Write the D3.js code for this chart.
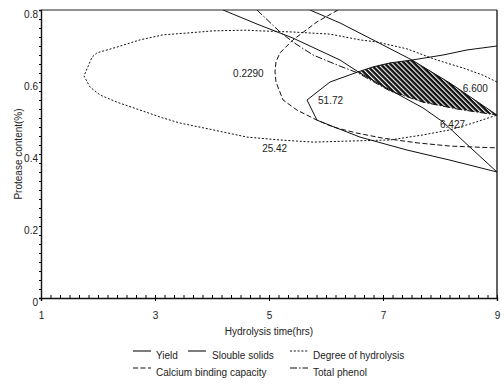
<!DOCTYPE html>
<html>
<head>
<meta charset="utf-8">
<script src="https://cdnjs.cloudflare.com/ajax/libs/d3/7.8.5/d3.min.js"></script>
<style>
  body { margin: 0; background: #fff; }
  text { font-family: "Liberation Sans", Arial, sans-serif; font-size: 10px; fill: #222; }
  .curve { fill: none; stroke: #111; stroke-width: 1; }
</style>
</head>
<body>
<div class="chart"></div>
<script>
// ---- data: [hydrolysis time (hrs), protease content (%)] ----
var xTicks = [1, 3, 5, 7, 9];
var yTicks = [0, 0.2, 0.4, 0.6, 0.8];

// Degree of hydrolysis contour (25.42)
var hydrolysisPts = [
  [9, 0.600], [8.754, 0.619], [8.404, 0.639], [7.947, 0.661], [7.421, 0.692],
  [6.895, 0.711], [6.596, 0.717], [6.070, 0.733], [5.404, 0.739], [4.842, 0.742],
  [4.614, 0.744], [4.018, 0.742], [3.561, 0.736], [3.140, 0.731], [2.737, 0.717],
  [2.333, 0.697], [1.982, 0.681], [1.895, 0.669], [1.754, 0.617], [1.860, 0.586],
  [2.035, 0.564], [2.333, 0.544], [2.737, 0.522], [3.140, 0.500], [3.439, 0.486],
  [4.018, 0.467], [4.614, 0.447], [5.193, 0.439], [5.772, 0.433], [6.421, 0.436],
  [7.123, 0.439], [7.702, 0.453], [8.175, 0.467], [8.579, 0.486], [9, 0.508]
];

// Calcium binding capacity contour (0.2290)
var calciumPts = [
  [6.211, 0.800], [5.842, 0.767], [5.421, 0.717], [5.193, 0.681], [5.123, 0.656],
  [5.105, 0.628], [5.123, 0.600], [5.246, 0.550], [5.491, 0.522], [5.842, 0.494],
  [6.123, 0.475], [6.544, 0.458], [7.000, 0.444], [7.596, 0.431], [8.175, 0.422],
  [9, 0.417]
];

// Yield contour (51.72)
var yieldPts = [
  [9, 0.700], [8.474, 0.689], [8.053, 0.675], [7.509, 0.661], [7.123, 0.653],
  [6.825, 0.642], [6.561, 0.628], [6.070, 0.600], [5.667, 0.550], [5.842, 0.494],
  [6.193, 0.472], [6.596, 0.447], [7.421, 0.411], [8.175, 0.383], [9, 0.350]
];

// Slouble solids contours (6.600 and 6.427)
var solids1Pts = [
  [5.719, 0.800], [6.246, 0.764], [6.825, 0.717], [7.509, 0.661], [8.175, 0.597], [9, 0.508]
];
var solids2Pts = [
  [4.193, 0.800], [4.789, 0.761], [5.421, 0.722], [6.246, 0.661], [6.596, 0.625],
  [7.123, 0.578], [7.702, 0.528], [8.053, 0.489], [8.526, 0.419], [9, 0.350]
];

// Total phenol contour
var phenolPts = [
  [4.789, 0.800], [5.193, 0.739], [5.421, 0.711], [5.772, 0.675], [6.246, 0.644],
  [6.561, 0.625], [7.123, 0.575], [7.702, 0.544], [8.298, 0.525], [9, 0.508]
];

// hatched optimum region
var optimumPts = [
  [6.561, 0.628], [6.825, 0.642], [7.123, 0.653], [7.509, 0.661], [8.175, 0.597],
  [9, 0.508], [8.298, 0.525], [7.702, 0.544], [7.123, 0.575]
];

// contour value labels
var contourLabels = [
  {text: "0.2290", x: 4.37, y: 0.625},
  {text: "51.72", x: 5.86, y: 0.550},
  {text: "25.42", x: 4.88, y: 0.414},
  {text: "6.600", x: 8.40, y: 0.583},
  {text: "6.427", x: 8.00, y: 0.481}
];

var legendNames = ["Yield", "Slouble solids", "Degree of hydrolysis", "Calcium binding capacity", "Total phenol"];

// ---- set up ----
var svgWidth = 504;
var svgHeight = 386;
var margin = {top: 10, right: 7, bottom: 88, left: 41};
var width = svgWidth - margin.left - margin.right;
var height = svgHeight - margin.top - margin.bottom;

var svg = d3.select(".chart")
  .append("svg")
  .attr("width", svgWidth)
  .attr("height", svgHeight);

var defs = svg.append("defs");
defs.append("clipPath").attr("id", "plotClip")
  .append("rect").attr("width", width).attr("height", height);

// black fill with white diagonal stripes
var pat = defs.append("pattern")
  .attr("id", "hatch")
  .attr("patternUnits", "userSpaceOnUse")
  .attr("width", 3.5).attr("height", 3.5)
  .attr("patternTransform", "rotate(-45)");
pat.append("rect").attr("width", 3.5).attr("height", 3.5).attr("fill", "#111");
pat.append("rect").attr("x", 0).attr("width", 1.1).attr("height", 3.5).attr("fill", "#fff");

var chartGroup = svg.append("g")
  .attr("transform", `translate(${margin.left}, ${margin.top})`);

var xScale = d3.scaleLinear().domain([1, 9]).range([0, width]);
var yScale = d3.scaleLinear().domain([0, 0.8]).range([height, 0]);

// ---- axes ----
// minor ticks
chartGroup.append("g")
  .attr("transform", `translate(0, ${height})`)
  .call(d3.axisBottom(xScale).tickValues(d3.range(0, 49).map(i => 1 + i / 6)).tickSize(-3).tickFormat(""))
  .call(g => g.select(".domain").remove());

chartGroup.append("g")
  .call(d3.axisLeft(yScale).tickValues(d3.range(0, 33).map(i => i * 0.025)).tickSize(2).tickFormat(""))
  .call(g => g.select(".domain").remove());

var bottomAxis = d3.axisBottom(xScale)
  .tickValues(xTicks)
  .tickSize(3)
  .tickPadding(11);

var leftAxis = d3.axisLeft(yScale)
  .tickValues(yTicks)
  .tickSize(2)
  .tickPadding(1)
  .tickFormat(d => d === 0 ? "0" : d3.format(".1f")(d));

var xAxisG = chartGroup.append("g")
  .attr("transform", `translate(0, ${height})`)
  .call(bottomAxis);

var yAxisG = chartGroup.append("g")
  .call(leftAxis);
yAxisG.selectAll("text").attr("dy", "0.72em").attr("x", -3);

[xAxisG, yAxisG].forEach(function(g) {
  g.selectAll("text").style("font-size", "10px").attr("fill", "#222").style("font-family", null);
  g.select(".domain").attr("stroke", "#111").attr("stroke-width", 1.4);
});

// frame on top and right
chartGroup.append("line")
  .attr("x1", xScale(1)).attr("x2", xScale(9))
  .attr("y1", yScale(0.8)).attr("y2", yScale(0.8))
  .attr("stroke", "#222").attr("stroke-width", 1);
chartGroup.append("line")
  .attr("x1", xScale(9)).attr("x2", xScale(9))
  .attr("y1", yScale(0.8)).attr("y2", yScale(0))
  .attr("stroke", "#111").attr("stroke-width", 1.3);

// ---- contours ----
var line = d3.line()
  .x(d => xScale(d[0]))
  .y(d => yScale(d[1]));

var plot = chartGroup.append("g").attr("clip-path", "url(#plotClip)");

plot.append("path")
  .datum(optimumPts)
  .attr("d", d => line(d) + "Z")
  .attr("fill", "url(#hatch)")
  .attr("stroke", "none");

var series = [
  {pts: hydrolysisPts, dash: "2,1.8"},
  {pts: calciumPts, dash: "5,2.5"},
  {pts: yieldPts, dash: null},
  {pts: solids1Pts, dash: null},
  {pts: solids2Pts, dash: null},
  {pts: phenolPts, dash: "7,2,1.5,2"}
];

plot.selectAll(".curve")
  .data(series)
  .enter()
  .append("path")
  .attr("class", "curve")
  .attr("d", d => line(d.pts))
  .attr("stroke-dasharray", d => d.dash);

// contour labels
chartGroup.selectAll(".clabel")
  .data(contourLabels)
  .enter()
  .append("text")
  .attr("class", "clabel")
  .attr("x", d => xScale(d.x))
  .attr("y", d => yScale(d.y))
  .attr("dy", "0.35em")
  .text(d => d.text);

// ---- axis titles ----
chartGroup.append("text")
  .attr("transform", "rotate(-90)")
  .attr("x", -height / 2)
  .attr("y", 18 - margin.left)
  .attr("dy", "0.35em")
  .attr("text-anchor", "middle")
  .text("Protease content(%)");

chartGroup.append("text")
  .attr("x", xScale(5))
  .attr("y", height + 37)
  .attr("text-anchor", "middle")
  .text("Hydrolysis time(hrs)");

// ---- legend ----
var legendItems = [
  {name: legendNames[0], dash: null, x: 92, row: 0},
  {name: legendNames[1], dash: null, x: 147, row: 0},
  {name: legendNames[2], dash: "2,1.8", x: 249, row: 0},
  {name: legendNames[3], dash: "5,2.5", x: 92, row: 1},
  {name: legendNames[4], dash: "7,2,1.5,2", x: 249, row: 1}
];

var legend = chartGroup.append("g")
  .attr("transform", `translate(0, ${height + 57})`);

var item = legend.selectAll(".legend-item")
  .data(legendItems)
  .enter()
  .append("g")
  .attr("class", "legend-item")
  .attr("transform", d => `translate(${d.x}, ${d.row * 17})`);

item.append("line")
  .attr("x1", 0).attr("x2", 18)
  .attr("y1", -4).attr("y2", -4)
  .attr("stroke", "#111")
  .attr("stroke-width", 1.1)
  .attr("stroke-dasharray", d => d.dash);

item.append("text")
  .attr("x", d => d.name === "Slouble solids" ? 24 : 23)
  .attr("y", 0)
  .attr("dy", "0.35em")
  .text(d => d.name);
</script>
</body>
</html>
